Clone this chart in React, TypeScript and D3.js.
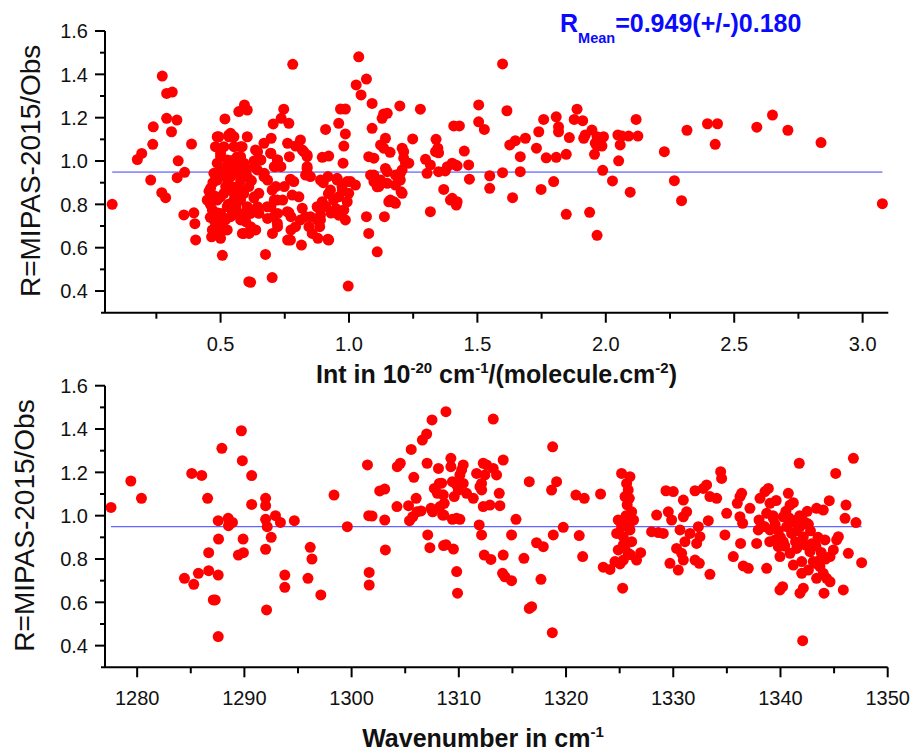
import React from "react";
import * as d3 from "d3";

// ---------- data: upper panel (line intensity vs ratio) ----------
const topIntensity: number[] = [
  0.078,0.176,0.193,0.228,0.236,0.238,0.273,0.271,0.286,0.29,
  0.312,0.29,0.309,0.33,0.335,0.331,0.36,0.357,0.396,0.40,
  0.403,0.387,0.517,0.507,0.61,0.571,0.593,0.604,0.493,0.532,
  0.48,0.584,0.461,0.448,0.468,0.474,0.468,0.50,0.493,0.519,
  0.546,0.578,0.591,0.487,0.513,0.552,0.578,0.604,0.487,0.526,
  0.565,0.591,0.493,0.539,0.578,0.604,0.50,0.552,0.455,0.46,
  0.475,0.48,0.465,0.49,0.51,0.50,0.52,0.53,0.54,0.56,
  0.56,0.57,0.59,0.60,0.62,0.63,0.62,0.63,0.781,1.038,
  1.068,1.028,1.047,1.09,1.135,1.129,1.09,0.967,0.986,0.96,
  0.986,0.98,0.977,0.909,0.896,0.921,0.746,0.705,0.736,0.766,
  0.604,0.697,0.669,0.811,0.792,0.824,0.837,0.837,0.831,0.785,
  0.772,0.779,0.889,0.928,0.918,0.954,0.993,1.025,0.974,0.96,
  0.993,0.98,0.986,0.896,0.876,0.85,0.844,0.857,0.889,0.886,
  0.879,0.918,0.818,0.811,0.792,0.772,0.815,0.766,0.675,0.617,
  0.701,0.997,1.068,1.077,1.11,1.138,1.077,1.123,1.142,1.097,
  1.11,1.149,1.155,1.142,0.636,0.656,0.695,0.721,0.714,0.643,
  0.669,0.61,0.649,0.701,0.721,0.682,0.649,0.617,0.721,0.76,
  0.707,0.591,0.584,1.598,1.198,1.278,1.149,1.505,1.615,1.505,
  1.527,1.408,1.43,1.16,1.248,1.339,1.135,1.213,1.207,1.22,
  1.233,1.349,1.346,1.449,1.298,1.317,1.304,1.349,1.375,1.414,
  1.466,1.469,1.548,1.548,1.598,1.667,1.667,1.626,1.648,1.687,
  1.637,1.369,1.395,1.418,1.421,1.317,1.149,1.181,1.181,1.2,
  1.203,1.174,1.161,1.207,1.73,1.739,1.758,1.768,1.748,1.797,
  1.807,1.807,1.816,1.816,1.858,1.846,1.846,1.888,1.877,1.91,
  1.92,1.914,1.946,1.966,1.991,1.959,1.979,1.985,1.966,1.956,
  1.937,1.966,1.988,2.026,2.047,2.063,2.089,2.125,2.056,2.05,
  2.118,2.095,2.228,2.267,2.295,2.316,2.396,2.435,2.426,2.588,
  2.649,2.709,2.838,3.077,1.097,1.213,1.2,1.207,1.181,1.123,
  1.116,1.084,1.097,1.402,1.402,1.383,1.421,1.337,0.818,0.837,
  0.837,0.85,0.805,0.831,0.876,0.889,0.921,0.90,0.92,0.94,
  0.95,0.96,0.91,0.93,0.999,0.973,0.954,1.006,0.552,0.578,
  0.578,0.644,0.657,0.631,0.67,0.683,0.709,0.722,0.696,0.715,
  0.709,0.696,0.722,0.722,0.683,0.702,0.631,0.644,0.617,0.598,
  0.585,0.637,0.611,0.552,0.539,0.552,0.526,0.539,0.526,0.565,
  0.50,0.487,0.474,0.50,0.52,0.487,0.474,0.526,0.552,0.50,
  0.513,0.487,0.533,0.539,0.774,0.742,0.748,0.735,0.768,0.761,
  0.774,0.761,0.47,0.51,0.55,0.58,0.53,0.56,0.46,0.50,
];
const topRatio: number[] = [
  0.80,1.007,1.035,0.912,1.077,1.158,1.392,0.854,0.831,1.312,
  1.318,1.197,1.135,1.189,1.001,0.923,0.948,0.751,0.761,0.711,
  0.636,1.078,1.194,0.565,0.443,1.228,1.259,1.235,1.112,1.12,
  1.066,1.066,0.874,0.82,0.774,0.728,0.682,0.643,0.705,0.728,
  0.759,0.728,0.666,0.82,0.851,0.851,0.82,0.789,0.99,1.005,
  1.02,0.99,0.928,0.928,0.912,0.928,1.036,1.066,0.86,0.80,
  0.84,0.70,0.65,0.76,0.68,0.96,0.97,0.90,1.00,0.97,
  0.88,0.95,0.85,0.96,0.91,1.00,0.77,0.83,1.446,1.481,
  1.378,1.351,1.305,1.266,1.217,1.197,1.151,1.24,1.24,1.174,
  1.125,1.069,0.99,1.146,1.017,1.023,1.239,1.171,1.197,1.174,
  1.112,1.105,1.082,1.097,1.069,1.043,1.028,0.974,0.935,0.905,
  0.916,0.843,0.912,0.866,0.928,0.92,0.905,0.889,0.866,0.835,
  0.812,0.774,0.728,0.812,0.789,0.743,0.697,0.666,0.728,0.697,
  0.643,0.639,0.782,0.728,0.697,0.635,0.612,0.762,0.569,0.44,
  0.462,0.423,0.743,0.666,0.581,0.743,1.02,1.074,1.105,0.935,
  0.881,0.897,0.812,0.966,1.051,1.005,1.036,1.005,0.974,0.959,
  0.928,0.882,0.851,0.866,0.82,0.789,0.759,0.697,0.713,0.766,
  0.743,0.759,0.928,1.448,1.254,1.239,1.22,1.259,1.232,1.181,
  1.146,1.162,1.162,1.04,1.102,1.1,1.059,1.043,1.059,0.99,
  0.99,1.038,1.059,1.046,1.008,0.982,0.943,0.951,0.954,0.982,
  0.982,0.916,0.932,0.874,0.946,1.02,0.951,1.074,1.094,1.105,
  0.831,0.869,0.82,0.797,0.812,0.766,0.951,0.935,0.889,0.912,
  0.858,0.812,0.82,0.959,1.059,1.135,1.192,1.015,0.869,0.905,
  1.017,1.204,1.158,1.135,1.108,1.031,0.754,1.239,1.192,1.186,
  1.12,1.105,1.143,1.112,1.112,1.082,1.089,1.069,1.07,1.031,
  0.763,0.657,0.957,0.908,1.12,1.115,1.115,1.115,1.074,1.001,
  1.192,0.856,1.043,0.909,0.817,1.142,1.172,1.172,1.077,1.156,
  1.212,1.142,1.085,0.803,1.013,1.013,0.943,0.851,0.805,0.912,
  0.882,0.935,0.905,0.828,0.99,0.974,0.978,1.043,1.051,1.02,
  0.966,0.928,0.835,0.743,0.728,0.751,0.635,0.90,0.85,0.82,
  0.78,0.75,0.79,0.76,0.851,0.882,0.912,0.905,1.112,1.066,
  1.02,1.043,1.005,0.974,0.943,0.912,0.974,1.005,1.035,0.882,
  0.82,0.789,0.758,0.697,0.735,0.666,0.835,0.789,0.758,0.72,
  0.666,0.682,0.666,0.943,0.882,0.82,0.789,0.743,0.682,0.758,
  0.758,0.666,0.82,0.835,0.882,0.912,0.943,0.958,1.005,1.02,
  1.066,1.112,1.112,1.128,0.743,0.82,0.882,0.974,1.02,1.082,
  0.682,0.635,0.90,0.93,0.99,0.87,0.80,0.79,0.74,0.72,
];

// ---------- data: lower panel (wavenumber vs ratio) ----------
const botWavenumber: number[] = [
  1277.56,1279.41,1280.4,1284.41,1285.28,1285.09,1286.02,1285.71,1286.57,1286.67,
  1286.67,1287.1,1287.28,1287.56,1287.56,1287.59,1287.56,1287.9,1288.49,1288.89,
  1288.52,1289.44,1289.91,1289.72,1289.81,1289.88,1290.68,1290.68,1291.98,1291.98,
  1291.98,1292.07,1291.98,1292.13,1292.5,1292.9,1293.36,1293.77,1293.77,1294.66,
  1296.14,1296.3,1295.93,1297.13,1298.36,1299.6,1301.48,1301.6,1301.91,1301.64,
  1301.64,1303.09,1303.15,1302.62,1303.09,1304.23,1304.26,1304.54,1305.56,1305.8,
  1305.4,1305.7,1305.31,1306.02,1306.1,1306.48,1307.04,1306.6,1307.0,1307.5,
  1308.8,1307.1,1307.3,1307.4,1307.56,1308.1,1308.18,1307.72,1308.0,1308.49,
  1308.64,1308.58,1309.26,1309.26,1309.4,1309.57,1309.4,1309.5,1309.8,1309.88,
  1313.21,1318.75,1314.14,1310.41,1310.1,1310.41,1309.95,1310.72,1311.35,1311.66,
  1312.59,1313.21,1312.12,1312.43,1313.52,1313.77,1313.83,1312.28,1312.9,1309.79,
  1310.1,1311.9,1312.12,1315.33,1314.92,1312.37,1312.99,1314.14,1314.08,1314.3,
  1314.92,1316.57,1319.12,1318.65,1317.25,1317.88,1318.81,1319.74,1316.07,1317.66,
  1316.57,1316.79,1318.72,1320.92,1321.7,1321.23,1321.55,1323.22,1323.47,1324.1,
  1324.56,1325.18,1325.96,1325.65,1325.8,1325.5,1325.9,1324.87,1325.18,1324.72,
  1325.34,1325.96,1326.12,1325.96,1326.12,1325.34,1324.87,1325.8,1325.34,1325.03,
  1325.28,1326.58,1326.96,1327.98,1328.6,1329.07,1328.45,1329.32,1330.0,1329.54,
  1329.85,1330.63,1330.94,1331.25,1330.94,1329.69,1330.47,1330.94,1330.78,1330.31,
  1331.09,1331.56,1332.03,1332.43,1332.18,1332.34,1332.49,1332.03,1332.8,1333.11,
  1333.42,1334.05,1333.27,1333.42,1334.42,1334.51,1334.98,1334.82,1335.6,1336.22,
  1336.38,1335.97,1336.22,1336.47,1336.28,1336.53,1337.0,1337.15,1337.78,1338.09,
  1338.55,1338.87,1337.93,1338.71,1339.02,1339.33,1339.02,1339.49,1339.8,1339.95,
  1338.71,1339.95,1340.2,1340.73,1340.89,1340.26,1340.58,1341.04,1341.51,1341.82,
  1342.13,1342.45,1340.26,1340.89,1341.51,1341.98,1341.2,1342.29,1342.75,1343.06,
  1341.75,1342.07,1341.82,1342.13,1341.98,1342.6,1343.22,1343.68,1343.99,1343.37,
  1343.68,1344.3,1344.06,1344.62,1343.37,1343.99,1344.55,1344.15,1345.24,1345.4,
  1344.93,1344.62,1345.86,1346.33,1345.15,1346.8,1346.11,1346.02,1347.04,1347.57,
  1338.5,1339.5,1340.5,1341,1341.5,1342,1342.8,1343.3,1343.8,1340,
  1339,1338,1341.2,1339.6,1342.5,1325.6,1325.3,1325.9,1325.5,1326,
  1325.7,1326.3,1310.26,1309.79,1312.28,1311.97,1312.13,1308.4,1308.55,1308.24,
  1308.6,1308.8,1339.3,1340.8,1341.8,1342.6,1343.5,1344.2,1340.4,1341.4,
  1342.9,1339.8,
];
const botRatio: number[] = [
  1.038,1.16,1.08,0.711,0.683,1.195,1.186,0.734,1.08,0.829,
  0.746,0.611,0.611,0.442,0.726,0.892,0.977,1.311,0.988,0.969,
  0.954,0.818,0.829,1.392,1.254,0.892,1.185,1.052,1.08,1.046,
  0.845,0.565,0.983,0.949,0.9,1.0,0.969,0.726,0.669,0.977,
  0.854,0.8,0.711,0.634,1.095,0.949,1.234,1.0,0.998,0.738,
  0.68,0.98,0.842,1.114,1.123,1.042,1.226,1.242,1.306,1.177,
  0.977,0.995,1.046,1.08,1.018,1.022,1.242,1.349,1.377,1.442,
  1.48,0.911,0.852,1.034,1.018,1.218,1.149,1.126,1.103,1.003,
  1.057,0.862,1.265,1.226,1.157,1.088,0.983,0.846,0.742,0.642,
  1.446,1.318,1.257,1.234,1.188,1.149,1.118,1.103,1.08,1.195,
  1.234,1.218,1.149,1.188,1.188,1.103,1.046,1.042,1.049,0.988,
  0.983,0.957,0.911,0.983,0.911,0.818,0.798,0.818,0.734,0.718,
  0.7,1.157,1.157,1.118,0.875,0.857,0.911,0.946,0.803,0.706,
  0.572,0.58,0.46,1.095,1.08,0.908,0.811,1.1,0.762,0.752,
  0.788,1.195,1.18,1.149,1.118,1.088,1.08,0.98,0.949,0.918,
  0.903,0.995,1.018,0.934,0.88,0.865,0.842,0.826,0.795,0.777,
  0.665,0.795,0.829,0.926,0.922,0.918,1.003,1.115,1.111,1.018,
  0.98,0.934,0.995,1.018,1.072,0.78,0.749,0.795,0.826,0.849,
  0.88,0.918,0.795,0.78,0.872,0.949,0.903,1.115,1.126,1.142,
  1.088,1.08,0.977,0.729,1.203,1.172,1.011,0.911,0.811,1.088,
  1.103,1.057,0.995,0.965,0.872,0.768,0.757,1.034,0.872,1.08,
  1.111,1.126,0.934,1.011,1.057,0.988,0.934,0.888,0.857,0.811,
  0.757,0.657,0.672,1.103,1.049,0.995,0.949,0.918,0.98,0.949,
  0.903,0.965,0.88,0.826,0.849,0.788,0.772,0.865,0.834,0.788,
  1.242,0.423,0.642,0.665,0.734,0.749,0.78,0.765,0.734,0.711,
  0.795,0.711,0.642,0.695,1.034,1.026,1.069,0.888,0.888,0.903,
  0.842,0.811,0.657,0.826,1.195,1.265,1.049,0.988,0.968,0.783,
  0.95,0.96,1.02,0.97,0.93,0.99,0.93,0.86,0.83,0.9,
  0.88,0.98,1.06,1.07,1.02,1.0,0.97,0.96,0.86,0.82,
  1.05,0.98,1.211,1.142,1.242,1.134,1.119,1.15,1.096,1.042,
  1.003,0.866,1.0,0.99,1.0,0.96,0.9,0.8,0.86,0.88,
  0.87,0.93,
];

const meanRatio = 0.949;
const legendMain = "R";
const legendSub = "Mean";
const legendRest = "=0.949(+/-)0.180";

const topXMajor = [0.5, 1.0, 1.5, 2.0, 2.5, 3.0];
const topXMinor = [0.25, 0.75, 1.25, 1.75, 2.25, 2.75];
const botXMajor = [1280, 1290, 1300, 1310, 1320, 1330, 1340, 1350];
const botXMinor = [1285, 1295, 1305, 1315, 1325, 1335, 1345];
const yMajor = [0.4, 0.6, 0.8, 1.0, 1.2, 1.4, 1.6];
const yMinor = [0.5, 0.7, 0.9, 1.1, 1.3, 1.5];

const yTitle = "R=MIPAS-2015/Obs";

const FONT = "'Liberation Sans', Arial, Helvetica, sans-serif";

type PanelProps = {
  xs: number[];
  ys: number[];
  x: d3.ScaleLinear<number, number>;
  y: d3.ScaleLinear<number, number>;
  xMajor: number[];
  xMinor: number[];
  xFmt: (v: number) => string;
  tickLabelBaseline: number;
  yTitleX: number;
};

function Panel({ xs, ys, x, y, xMajor, xMinor, xFmt, tickLabelBaseline, yTitleX }: PanelProps) {
  const [x0, x1] = x.range();
  const [yb, yt] = y.range();
  const yFmt = d3.format(".1f");
  const ext = d3.extent(xs) as [number, number];
  const yMid = (yb + yt) / 2;
  return (
    <g>
      <line x1={x(ext[0])} x2={x(ext[1])} y1={y(meanRatio)} y2={y(meanRatio)} stroke="#3b3bff" strokeWidth={1} />
      {xs.map((v, i) => (
        <circle key={i} cx={x(v)} cy={y(ys[i])} r={5.5} fill="#ff0000" />
      ))}
      <line x1={x0 - 4} x2={x1} y1={yb} y2={yb} stroke="#000" strokeWidth={2} />
      <line x1={x0} x2={x0} y1={yb} y2={yt} stroke="#000" strokeWidth={2} />
      {xMajor.map((t) => (
        <g key={"xM" + t}>
          <line x1={x(t)} x2={x(t)} y1={yb} y2={yb + 10} stroke="#000" strokeWidth={2} />
          <text x={x(t)} y={tickLabelBaseline} textAnchor="middle" fontSize={20} fontFamily={FONT} fill="#111">
            {xFmt(t)}
          </text>
        </g>
      ))}
      {xMinor.map((t) => (
        <line key={"xm" + t} x1={x(t)} x2={x(t)} y1={yb} y2={yb + 6} stroke="#000" strokeWidth={2} />
      ))}
      {yMajor.map((t) => (
        <g key={"yM" + t}>
          <line x1={x0 - 10} x2={x0} y1={y(t)} y2={y(t)} stroke="#000" strokeWidth={2} />
          <text x={x0 - 17} y={y(t)} dy="0.36em" textAnchor="end" fontSize={20} fontFamily={FONT} fill="#111">
            {yFmt(t)}
          </text>
        </g>
      ))}
      {yMinor.map((t) => (
        <line key={"ym" + t} x1={x0 - 5} x2={x0} y1={y(t)} y2={y(t)} stroke="#000" strokeWidth={2} />
      ))}
      <text
        transform={`translate(${yTitleX},${yMid - 1}) rotate(-90)`}
        textAnchor="middle"
        fontSize={28}
        fontFamily={FONT}
        fill="#111"
      >
        {yTitle}
      </text>
    </g>
  );
}

export default function App() {
  const topX = d3.scaleLinear().domain([0.05, 3.1]).range([105, 888.3]);
  const topY = d3.scaleLinear().domain([0.3, 1.6]).range([312.7, 31]);
  const botX = d3.scaleLinear().domain([1277, 1350]).range([105, 887.7]);
  const botY = d3.scaleLinear().domain([0.3, 1.6]).range([667.3, 385.7]);

  return (
    <svg
      width={912}
      height={751}
      viewBox="0 0 912 751"
      style={{ position: "absolute", left: 0, top: 0, background: "#fff", display: "block" }}
    >
      <rect x={0} y={0} width={912} height={751} fill="#fff" />
      <Panel
        xs={topIntensity}
        ys={topRatio}
        x={topX}
        y={topY}
        xMajor={topXMajor}
        xMinor={topXMinor}
        xFmt={d3.format(".1f")}
        tickLabelBaseline={350.5}
        yTitleX={40}
      />
      <Panel
        xs={botWavenumber}
        ys={botRatio}
        x={botX}
        y={botY}
        xMajor={botXMajor}
        xMinor={botXMinor}
        xFmt={d3.format("d")}
        tickLabelBaseline={705}
        yTitleX={33.5}
      />
      <text x={560} y={32} fontSize={25} fontWeight="bold" fontFamily={FONT} fill="#0a0aff">
        {legendMain}
        <tspan fontSize={14.5} dy={11}>{legendSub}</tspan>
        <tspan fontSize={25} dy={-11}>{legendRest}</tspan>
      </text>
      <text x={496.5} y={383} textAnchor="middle" fontSize={25} fontWeight="bold" fontFamily={FONT} fill="#111">
        Int in 10
        <tspan fontSize={15} dy={-10}>-20</tspan>
        <tspan dy={10}> cm</tspan>
        <tspan fontSize={15} dy={-10}>-1</tspan>
        <tspan dy={10}>/(molecule.cm</tspan>
        <tspan fontSize={15} dy={-10}>-2</tspan>
        <tspan dy={10}>)</tspan>
      </text>
      <text x={483} y={747} textAnchor="middle" fontSize={25} fontWeight="bold" fontFamily={FONT} fill="#111">
        Wavenumber in cm
        <tspan fontSize={15} dy={-10}>-1</tspan>
      </text>
    </svg>
  );
}
